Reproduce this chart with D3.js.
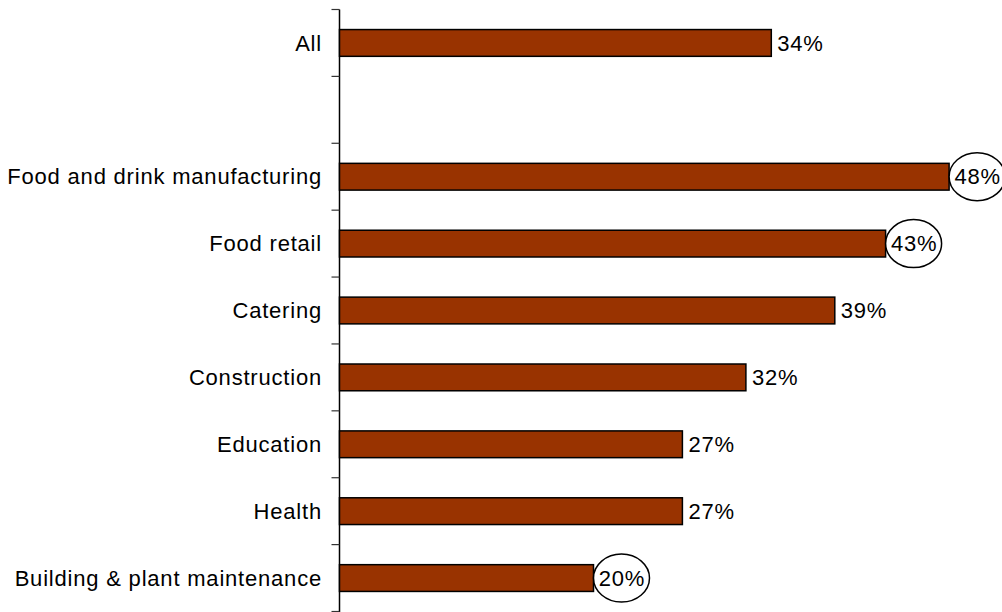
<!DOCTYPE html>
<html>
<head>
<meta charset="utf-8">
<script src="https://cdn.jsdelivr.net/npm/d3@7"></script>
<style>
  html, body { margin: 0; padding: 0; background: #fff; }
  svg { display: block; font-family: Arial, "Liberation Sans", sans-serif; }
</style>
</head>
<body>
<svg id="chart" width="1002" height="612"></svg>
<script>
const categories = ["All", "", "Food and drink manufacturing", "Food retail", "Catering", "Construction", "Education", "Health", "Building & plant maintenance"];
const values = [34, null, 48, 43, 39, 32, 27, 27, 20];
const circled = [false, false, true, true, false, false, false, false, true];
const valueLabels = ["34%", "", "48%", "43%", "39%", "32%", "27%", "27%", "20%"];

const svg = d3.select("#chart");
const axisX = 339.5;
const x = d3.scaleLinear().domain([0, 50]).range([axisX, 974.5]);
const y = d3.scaleBand().domain(d3.range(categories.length)).range([9.5, 611.5]).padding(0);
const barH = y.bandwidth() * 0.4;
const fontSize = 22;
const spacing = 0.8;

// axis line
svg.append("line")
  .attr("x1", axisX).attr("x2", axisX)
  .attr("y1", y.range()[0]).attr("y2", 612)
  .attr("stroke", "#000").attr("stroke-width", 1.5);

// tick marks at band boundaries
const boundaries = d3.range(categories.length + 1).map(i => y.range()[0] + i * y.step());
svg.selectAll(".tick").data(boundaries).enter().append("line")
  .attr("x1", axisX - 8).attr("x2", axisX)
  .attr("y1", d => d).attr("y2", d => d)
  .attr("stroke", "#333").attr("stroke-width", 1.2);

// category labels
svg.selectAll(".cat").data(categories).enter().append("text")
  .attr("x", 322)
  .attr("y", (d, i) => y(i) + y.bandwidth() / 2)
  .attr("dy", "0.35em")
  .attr("text-anchor", "end")
  .attr("font-size", fontSize)
  .attr("letter-spacing", spacing)
  .attr("fill", "#000")
  .text(d => d);

const data = categories.map((c, i) => ({i, c, v: values[i], circ: circled[i], lab: valueLabels[i]})).filter(d => d.v != null);

// bars
svg.selectAll(".bar").data(data).enter().append("rect")
  .attr("x", x(0))
  .attr("y", d => y(d.i) + (y.bandwidth() - barH) / 2)
  .attr("width", d => x(d.v) - x(0))
  .attr("height", barH)
  .attr("fill", "#993300")
  .attr("stroke", "#000")
  .attr("stroke-width", 1.5);

// ellipses
svg.selectAll(".ell").data(data.filter(d => d.circ)).enter().append("ellipse")
  .attr("cx", d => x(d.v) + 28)
  .attr("cy", d => y(d.i) + y.bandwidth() / 2)
  .attr("rx", 28).attr("ry", 24)
  .attr("fill", "#fff")
  .attr("stroke", "#000")
  .attr("stroke-width", 1.5);

// value labels
svg.selectAll(".val").data(data).enter().append("text")
  .attr("x", d => d.circ ? x(d.v) + 28.5 : x(d.v) + 6)
  .attr("y", d => y(d.i) + y.bandwidth() / 2)
  .attr("dy", "0.35em")
  .attr("text-anchor", d => d.circ ? "middle" : "start")
  .attr("font-size", fontSize)
  .attr("letter-spacing", spacing)
  .attr("fill", "#000")
  .text(d => d.lab);
</script>
</body>
</html>
